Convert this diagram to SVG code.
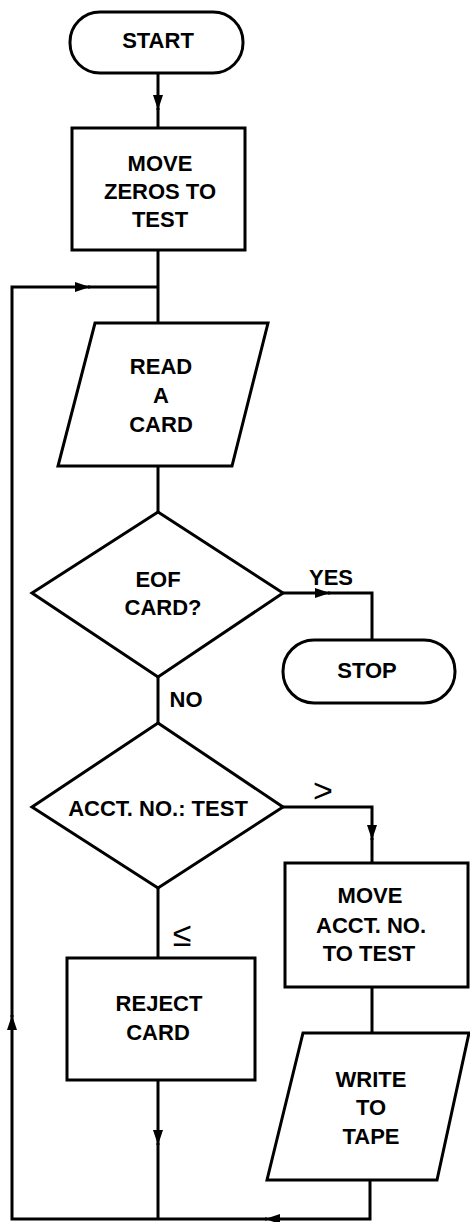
<svg xmlns="http://www.w3.org/2000/svg" width="470" height="1222" viewBox="0 0 470 1222">
  <style>
    .shape { fill: #ffffff; stroke: #000000; stroke-width: 3; stroke-linejoin: miter; }
    .wire { fill: none; stroke: #000000; stroke-width: 3; stroke-linejoin: miter; }
    .lbl { font-family: "Liberation Sans", Arial, sans-serif; font-weight: bold; font-size: 22px; fill: #000000; text-anchor: middle; }
    .sym { font-family: "Liberation Sans", "DejaVu Sans", sans-serif; font-size: 34px; fill: #000000; text-anchor: middle; }
  </style>
  <defs>
    <marker id="arrow" viewBox="0 0 15 10" refX="15" refY="5" markerWidth="15" markerHeight="10" markerUnits="userSpaceOnUse" orient="auto">
      <path d="M0,0 L15,5 L0,10 z" fill="#000000"/>
    </marker>
  </defs>
  <rect width="470" height="1222" fill="#ffffff"/>

  <!-- connectors -->
  <g id="connectors">
    <path class="wire" d="M158,73 L158,110" marker-end="url(#arrow)"/>
    <path class="wire" d="M158,108 L158,128"/>
    <path class="wire" d="M158,250 L158,323"/>
    <path class="wire" d="M158,466 L158,512"/>
    <path class="wire" d="M283,593 L330,593" marker-end="url(#arrow)"/>
    <path class="wire" d="M328,593 L372,593 L372,640"/>
    <path class="wire" d="M158,677 L158,723"/>
    <path class="wire" d="M283,807 L372,807 L372,840" marker-end="url(#arrow)"/>
    <path class="wire" d="M372,838 L372,863"/>
    <path class="wire" d="M158,888 L158,958"/>
    <path class="wire" d="M372,987 L372,1033"/>
    <path class="wire" d="M158,1080 L158,1145" marker-end="url(#arrow)"/>
    <path class="wire" d="M158,1143 L158,1219"/>
    <!-- return loop -->
    <path class="wire" d="M370,1180 L370,1219 L265,1219" marker-end="url(#arrow)"/>
    <path class="wire" d="M267,1219 L12,1219 L12,1015" marker-end="url(#arrow)"/>
    <path class="wire" d="M12,1017 L12,287 L90,287" marker-end="url(#arrow)"/>
    <path class="wire" d="M88,287 L158,287"/>
  </g>

  <!-- nodes -->
  <g id="start">
    <rect class="shape" x="70" y="12" width="173" height="61" rx="30" ry="30"/>
    <text class="lbl" x="158" y="48">START</text>
  </g>

  <g id="move-zeros">
    <rect class="shape" x="72" y="128" width="173" height="122"/>
    <text class="lbl" x="160" y="171">MOVE</text>
    <text class="lbl" x="160" y="199">ZEROS TO</text>
    <text class="lbl" x="160" y="227">TEST</text>
  </g>

  <g id="read-card">
    <polygon class="shape" points="95,323 268,323 232,466 58,466"/>
    <text class="lbl" x="161" y="374">READ</text>
    <text class="lbl" x="161" y="403">A</text>
    <text class="lbl" x="161" y="432">CARD</text>
  </g>

  <g id="eof-test">
    <polygon class="shape" points="158,512 283,593 158,677 32,593"/>
    <text class="lbl" x="158" y="587">EOF</text>
    <text class="lbl" x="163" y="615">CARD?</text>
  </g>

  <g id="stop">
    <rect class="shape" x="283" y="640" width="172" height="63" rx="31" ry="31"/>
    <text class="lbl" x="367" y="678">STOP</text>
  </g>

  <g id="acct-compare">
    <polygon class="shape" points="158,723 283,807 158,888 32,807"/>
    <text class="lbl" x="158" y="816">ACCT. NO.: TEST</text>
  </g>

  <g id="move-acct">
    <rect class="shape" x="285" y="863" width="183" height="124"/>
    <text class="lbl" x="370" y="903">MOVE</text>
    <text class="lbl" x="371" y="933">ACCT. NO.</text>
    <text class="lbl" x="369" y="961">TO TEST</text>
  </g>

  <g id="reject-card">
    <rect class="shape" x="67" y="958" width="188" height="122"/>
    <text class="lbl" x="159" y="1011">REJECT</text>
    <text class="lbl" x="158" y="1040">CARD</text>
  </g>

  <g id="write-tape">
    <polygon class="shape" points="303,1033 469,1033 437,1180 267,1180"/>
    <text class="lbl" x="371" y="1087">WRITE</text>
    <text class="lbl" x="371" y="1115">TO</text>
    <text class="lbl" x="371" y="1144">TAPE</text>
  </g>

  <!-- branch labels -->
  <g id="branch-labels">
    <text class="lbl" x="331" y="585">YES</text>
    <text class="lbl" x="186" y="707">NO</text>
    <text class="sym" x="323" y="802">&gt;</text>
    <text class="sym" x="182" y="946">≤</text>
  </g>
</svg>
